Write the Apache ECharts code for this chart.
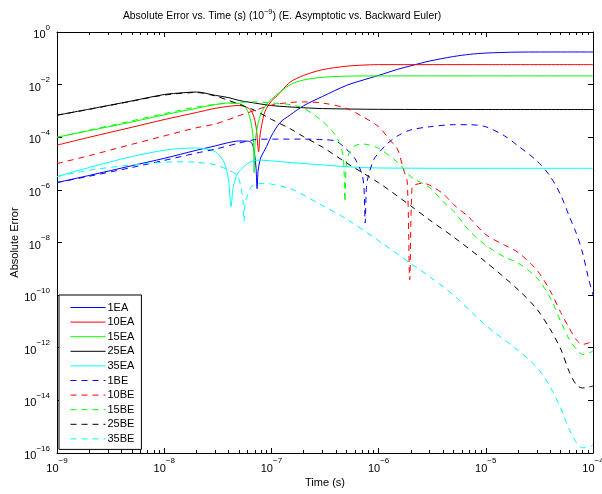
<!DOCTYPE html>
<html>
<head>
<meta charset="utf-8">
<script src="https://cdn.jsdelivr.net/npm/echarts@6/dist/echarts.min.js"></script>
<style>
  html, body { margin: 0; padding: 0; background: #ffffff; }
  #chart { width: 602px; height: 494px; }
</style>
</head>
<body>
<div id="chart"></div>
<script>
// ---- Absolute error samples: [time (s), absolute error] ----
const ea1 = [[1e-9,1.9e-6],[2e-9,3.55e-6],[5e-9,8.3e-6],[1e-8,1.58e-5],[2e-8,3.2e-5],[3e-8,4.7e-5],[4e-8,6.3e-5],[5e-8,7.2e-5],[6e-8,7.1e-5],[6.5e-8,6.3e-5],[6.8e-8,4.0e-5],[7e-8,2.0e-5],[7.2e-8,6.3e-6],[7.35e-8,1.12e-6],[7.5e-8,5.0e-6],[7.8e-8,1.26e-5],[8e-8,1.78e-5],[9e-8,4.4e-5],[1e-7,1.12e-4],[1.2e-7,3.55e-4],[1.5e-7,7.1e-4],[2e-7,1.58e-3],[3e-7,3.55e-3],[5e-7,9.3e-3],[7e-7,1.45e-2],[1e-6,2.24e-2],[1.5e-6,3.8e-2],[2e-6,5.2e-2],[3e-6,7.9e-2],[5e-6,0.117],[7e-6,0.141],[1e-5,0.158],[2e-5,0.172],[5e-5,0.174],[1e-4,0.174]];

const ea10 = [[1e-9,5.0e-5],[2e-9,1.0e-4],[5e-9,2.4e-4],[1e-8,4.7e-4],[2e-8,8.7e-4],[3e-8,1.26e-3],[4e-8,1.5e-3],[5e-8,1.62e-3],[6e-8,1.32e-3],[6.5e-8,1.0e-3],[7e-8,4.5e-4],[7.3e-8,1.6e-4],[7.45e-8,5.0e-5],[7.6e-8,2.8e-5],[7.8e-8,1.0e-4],[8e-8,2.0e-4],[8.5e-8,7.1e-4],[9e-8,1.26e-3],[1e-7,2.4e-3],[1.1e-7,3.4e-3],[1.3e-7,7.1e-3],[1.5e-7,1.26e-2],[2e-7,2.24e-2],[3e-7,3.7e-2],[5e-7,5.0e-2],[7e-7,5.5e-2],[1e-6,5.75e-2],[1e-5,5.75e-2],[1e-4,5.75e-2]];

const ea15 = [[1e-9,1.0e-4],[2e-9,1.78e-4],[5e-9,3.8e-4],[1e-8,7.1e-4],[2e-8,1.26e-3],[3e-8,1.74e-3],[4e-8,2.0e-3],[5e-8,1.9e-3],[5.5e-8,1.6e-3],[6e-8,1.0e-3],[6.5e-8,3.2e-4],[6.8e-8,6.3e-5],[6.9e-8,4.5e-6],[7.05e-8,6.3e-5],[7.5e-8,3.2e-4],[8e-8,7.9e-4],[9e-8,1.78e-3],[1e-7,2.8e-3],[1.5e-7,1.0e-2],[2e-7,1.5e-2],[3e-7,1.9e-2],[5e-7,2.1e-2],[1e-6,2.14e-2],[1e-4,2.14e-2]];

const ea25 = [[1e-9,6.9e-4],[2e-9,1.17e-3],[5e-9,2.4e-3],[1e-8,4.2e-3],[1.5e-8,4.9e-3],[2e-8,5.25e-3],[3e-8,3.9e-3],[4e-8,3.2e-3],[5e-8,2.5e-3],[7e-8,2.0e-3],[1e-7,1.6e-3],[2e-7,1.32e-3],[3e-7,1.23e-3],[1e-6,1.15e-3],[1e-5,1.13e-3],[1e-4,1.13e-3]];

const ea35 = [[1e-9,3.2e-6],[2e-9,7.1e-6],[5e-9,1.86e-5],[1e-8,3.2e-5],[1.5e-8,3.8e-5],[2e-8,3.9e-5],[2.5e-8,3.55e-5],[3e-8,2.8e-5],[3.5e-8,1.41e-5],[3.8e-8,6.3e-6],[4e-8,2.0e-6],[4.2e-8,2.3e-7],[4.4e-8,1.26e-6],[4.7e-8,3.2e-6],[5e-8,5.0e-6],[6e-8,1.0e-5],[7e-8,1.32e-5],[8e-8,1.35e-5],[1e-7,1.26e-5],[2e-7,1.0e-5],[3e-7,8.9e-6],[5e-7,7.6e-6],[1e-6,6.8e-6],[1e-5,6.6e-6],[1e-4,6.6e-6]];

const be1 = [[1e-9,1.9e-6],[2e-9,3.3e-6],[5e-9,7.1e-6],[1e-8,1.32e-5],[2e-8,2.5e-5],[3e-8,3.55e-5],[5e-8,6.0e-5],[7e-8,8.1e-5],[1e-7,8.5e-5],[2e-7,8.5e-5],[3e-7,8.1e-5],[4e-7,7.1e-5],[5e-7,3.55e-5],[6e-7,1.58e-5],[7e-7,4.0e-6],[7.3e-7,1.26e-6],[7.5e-7,5.5e-8],[7.7e-7,1.26e-6],[8e-7,3.2e-6],[9e-7,1.41e-5],[1e-6,2.5e-5],[1.2e-6,5.6e-5],[1.5e-6,1.12e-4],[2e-6,1.9e-4],[3e-6,2.5e-4],[5e-6,3.0e-4],[7e-6,3.0e-4],[1e-5,2.5e-4],[1.5e-5,1.12e-4],[2e-5,4.7e-5],[3e-5,1.26e-5],[4e-5,3.2e-6],[5e-5,6.3e-7],[6e-5,1.0e-7],[7e-5,2.2e-8],[8e-5,4.0e-9],[9e-5,5.0e-10],[1e-4,1.0e-10]];

const be10 = [[1e-9,1.0e-5],[2e-9,2.0e-5],[5e-9,5.4e-5],[1e-8,1.12e-4],[2e-8,2.3e-4],[3e-8,3.2e-4],[5e-8,6.6e-4],[7e-8,1.05e-3],[1e-7,1.66e-3],[1.5e-7,2.1e-3],[2e-7,2.2e-3],[3e-7,2.0e-3],[5e-7,1.26e-3],[7e-7,6.3e-4],[1e-6,2.5e-4],[1.3e-6,7.1e-5],[1.5e-6,3.55e-5],[1.7e-6,6.3e-6],[1.85e-6,2.0e-6],[1.95e-6,3.8e-10],[2.05e-6,1.26e-6],[2.2e-6,1.58e-6],[2.6e-6,1.78e-6],[3e-6,1.5e-6],[4e-6,7.1e-7],[5e-6,2.8e-7],[7e-6,8.9e-8],[1e-5,2.0e-8],[1.5e-5,7.9e-9],[2e-5,4.2e-9],[3e-5,8.9e-10],[4e-5,1.41e-10],[5e-5,2.2e-11],[6e-5,5.6e-12],[7e-5,2.0e-12],[8e-5,1.35e-12],[9e-5,1.5e-12],[1e-4,1.9e-12]];

const be15 = [[1e-9,1.0e-4],[2e-9,1.86e-4],[5e-9,4.2e-4],[1e-8,7.9e-4],[2e-8,1.41e-3],[3e-8,1.78e-3],[5e-8,2.1e-3],[7e-8,2.2e-3],[1e-7,2.0e-3],[1.5e-7,1.74e-3],[2e-7,1.26e-3],[2.5e-7,7.1e-4],[3e-7,4.0e-4],[3.5e-7,2.2e-4],[4e-7,1.12e-4],[4.4e-7,5.0e-5],[4.7e-7,1.58e-5],[4.85e-7,3.5e-7],[5e-7,1.0e-5],[5.3e-7,2.5e-5],[6e-7,4.7e-5],[7e-7,5.5e-5],[8e-7,5.2e-5],[1e-6,3.8e-5],[1.5e-6,1.12e-5],[2e-6,3.2e-6],[3e-6,1.2e-6],[4e-6,3.55e-7],[5e-6,1.58e-7],[7e-6,2.8e-8],[1e-5,7.9e-9],[1.5e-5,2.8e-9],[2e-5,1.66e-9],[3e-5,4.5e-10],[4e-5,7.9e-11],[5e-5,1.0e-11],[6e-5,2.1e-12],[7e-5,8.9e-13],[8e-5,5.6e-13],[9e-5,6.0e-13],[1e-4,7.6e-13]];

const be25 = [[1e-9,6.9e-4],[2e-9,1.15e-3],[5e-9,2.35e-3],[1e-8,4.0e-3],[2e-8,5.0e-3],[3e-8,3.7e-3],[4e-8,2.5e-3],[5e-8,1.8e-3],[7e-8,1.05e-3],[1e-7,4.8e-4],[1.5e-7,2.1e-4],[2e-7,1.05e-4],[3e-7,4.2e-5],[5e-7,1.07e-5],[1e-6,1.86e-6],[2e-6,2.45e-7],[3e-6,7.1e-8],[5e-6,1.62e-8],[1e-5,1.82e-9],[2e-5,1.62e-10],[3e-5,2.9e-11],[4e-5,4.9e-12],[5e-5,8.9e-13],[6e-5,1.23e-13],[7e-5,3.9e-14],[8e-5,2.95e-14],[9e-5,3.2e-14],[1e-4,3.5e-14]];

const be35 = [[1e-9,3.2e-6],[2e-9,5.6e-6],[5e-9,8.9e-6],[1e-8,1.12e-5],[1.5e-8,1.17e-5],[2e-8,1.12e-5],[3e-8,8.9e-6],[4e-8,5.6e-6],[4.8e-8,3.55e-6],[5.2e-8,1.26e-6],[5.45e-8,3.2e-7],[5.55e-8,6.2e-8],[5.7e-8,3.2e-7],[6.1e-8,7.4e-7],[6.6e-8,1.41e-6],[8e-8,1.74e-6],[9e-8,1.78e-6],[1e-7,1.66e-6],[1.5e-7,1.12e-6],[2e-7,6.3e-7],[3e-7,2.5e-7],[5e-7,7.9e-8],[1e-6,1.17e-8],[2e-6,1.58e-9],[3e-6,5.0e-10],[5e-6,1.0e-10],[1e-5,7.1e-12],[2e-5,7.9e-13],[3e-5,1.78e-13],[4e-5,3.2e-14],[5e-5,5.0e-15],[6e-5,7.9e-16],[7e-5,2.5e-16],[8e-5,1.58e-16],[9e-5,1.66e-16],[1e-4,2.0e-16]];

// ---- Axis tick values ----
const xMajorTicks = [1e-9, 1e-8, 1e-7, 1e-6, 1e-5, 1e-4];
const yMajorTicks = [1e-16, 1e-14, 1e-12, 1e-10, 1e-8, 1e-6, 1e-4, 1e-2, 1];
const minorMantissas = [2, 3, 4, 5, 6, 7, 8, 9];

// minor ticks of the log time axis (2..9 within each decade)
const xMinorTicks = [];
for (let d = 0; d < xMajorTicks.length - 1; d++) {
  minorMantissas.forEach(m => xMinorTicks.push(Number((m * xMajorTicks[d]).toPrecision(3))));
}

const FONT = "'Liberation Sans', Arial, Helvetica, sans-serif";
const BLUE = '#0000ff', RED = '#ff0000', GREEN = '#00ff00', BLACK = '#000000', CYAN = '#00ffff';
const DASH = [6, 5];

const curves = [
  { name: '1EA',  data: ea1,  color: BLUE,  dashed: false },
  { name: '10EA', data: ea10, color: RED,   dashed: false },
  { name: '15EA', data: ea15, color: GREEN, dashed: false },
  { name: '25EA', data: ea25, color: BLACK, dashed: false },
  { name: '35EA', data: ea35, color: CYAN,  dashed: false },
  { name: '1BE',  data: be1,  color: BLUE,  dashed: true },
  { name: '10BE', data: be10, color: RED,   dashed: true },
  { name: '15BE', data: be15, color: GREEN, dashed: true },
  { name: '25BE', data: be25, color: BLACK, dashed: true },
  { name: '35BE', data: be35, color: CYAN,  dashed: true }
];

// power-of-ten label with a superscript exponent
function powLabel(v) {
  const e = Math.round(Math.log10(v));
  const s = e < 0 ? '\u2212' + (-e) : String(e);
  return '{b|10}{e|' + s + '}';
}
const powRich = {
  b: { fontSize: 11, fontFamily: FONT, color: '#000', lineHeight: 17, verticalAlign: 'bottom' },
  e: { fontSize: 8, fontFamily: FONT, color: '#000', lineHeight: 9, verticalAlign: 'top' }
};

const GRID = { left: 57, right: 9, top: 32, bottom: 41, outerBoundsMode: 'none', containLabel: false };

function xAxisDef(position, ticks, len, showLine, showLabel) {
  return {
    type: 'log', logBase: 10, min: 1e-9, max: 1e-4, position: position,
    gridIndex: 0,
    axisLine: { show: showLine, lineStyle: { color: '#000', width: 1 } },
    axisTick: { show: true, inside: true, length: len, customValues: ticks, lineStyle: { color: '#000', width: 1 } },
    axisLabel: { show: showLabel, customValues: xMajorTicks, formatter: powLabel, rich: powRich, margin: 4, color: '#000' },
    splitLine: { show: false }, minorTick: { show: false }, minorSplitLine: { show: false },
    axisPointer: { show: false }
  };
}

const xAxes = [
  Object.assign(xAxisDef('bottom', xMajorTicks, 5, true, true), {
    name: 'Time (s)', nameLocation: 'middle', nameGap: 24, nameMoveOverlap: false,
    nameTextStyle: { fontSize: 11, fontFamily: FONT, color: '#000' }
  }),
  xAxisDef('bottom', xMinorTicks, 3, false, false),
  xAxisDef('top', xMajorTicks, 5, true, false),
  xAxisDef('top', xMinorTicks, 3, false, false)
];

function yAxisDef(position, showLabel) {
  return {
    type: 'log', logBase: 10, min: 1e-16, max: 1, position: position,
    axisLine: { show: true, lineStyle: { color: '#000', width: 1 } },
    axisTick: { show: true, inside: true, length: 5, customValues: yMajorTicks, lineStyle: { color: '#000', width: 1 } },
    axisLabel: { show: showLabel, customValues: yMajorTicks, formatter: powLabel, rich: powRich, margin: 7, color: '#000' },
    splitLine: { show: false }, minorTick: { show: false }, minorSplitLine: { show: false },
    axisPointer: { show: false }
  };
}

const yAxes = [
  Object.assign(yAxisDef('left', true), {
    name: 'Absolute Error', nameLocation: 'middle', nameGap: 37, nameMoveOverlap: false,
    nameTextStyle: { fontSize: 11, fontFamily: FONT, color: '#000' }
  }),
  yAxisDef('right', false)
];

const series = curves.map(c => ({
  name: c.name,
  type: 'line',
  xAxisIndex: 0,
  yAxisIndex: 0,
  data: c.data,
  showSymbol: false,
  symbol: 'none',
  smooth: 0.3,
  clip: true,
  color: c.color,
  lineStyle: { color: c.color, width: 1, type: c.dashed ? DASH : 'solid' },
  emphasis: { disabled: true },
  animation: false
}));

const chart = echarts.init(document.getElementById('chart'), null, { renderer: 'canvas' });
chart.setOption({
  backgroundColor: '#ffffff',
  animation: false,
  textStyle: { fontFamily: FONT },
  title: {
    text: 'Absolute Error vs. Time (s) (10{e|\u22129}) (E. Asymptotic vs. Backward Euler)',
    left: 282, top: 8, textAlign: 'center', padding: 0,
    textStyle: {
      fontSize: 10.4, fontWeight: 'normal', fontFamily: FONT, color: '#000', lineHeight: 17, verticalAlign: 'bottom',
      rich: {
        e: { fontSize: 7.5, fontFamily: FONT, color: '#000', verticalAlign: 'top', lineHeight: 9 }
      }
    }
  },
  grid: GRID,
  legend: {
    data: curves.map(c => c.name),
    orient: 'vertical',
    left: 59, top: 295,
    itemWidth: 35, itemHeight: 10, itemGap: 3.6,
    padding: [7, 7, 5, 11],
    borderColor: '#000', borderWidth: 1, backgroundColor: '#ffffff',
    itemStyle: { opacity: 0 },
    lineStyle: { width: 1 },
    textStyle: { fontSize: 11, fontFamily: FONT, color: '#000', padding: [0, 0, 0, -3] },
    selectedMode: false
  },
  xAxis: xAxes,
  yAxis: yAxes,
  series: series
});
</script>
</body>
</html>
